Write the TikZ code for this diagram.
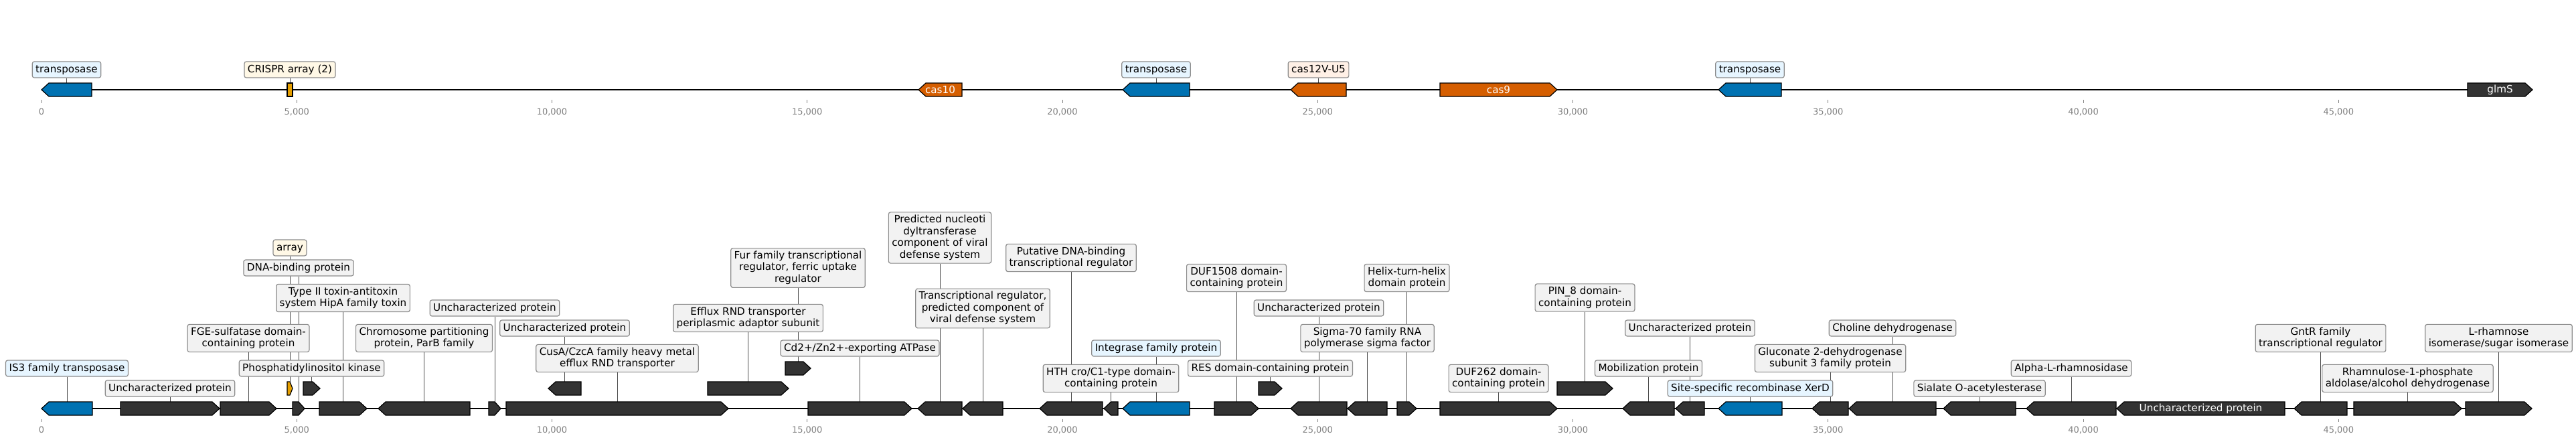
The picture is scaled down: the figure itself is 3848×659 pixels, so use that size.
\documentclass[tikz,border=0pt]{standalone}
\usepackage{fontspec}
\setmainfont{DejaVu Sans}
\definecolor{gdark}{HTML}{333333}
\definecolor{gblue}{HTML}{0072B2}
\definecolor{gorange}{HTML}{D55E00}
\definecolor{garray}{HTML}{E69F00}
\definecolor{lgrey}{HTML}{F2F2F2}
\definecolor{lblue}{HTML}{E6F5FF}
\definecolor{lcream}{HTML}{FFF8E6}
\definecolor{lpeach}{HTML}{FFF0E6}
\definecolor{ledge}{HTML}{8C8C8C}
\definecolor{tickc}{HTML}{808080}
\pgfdeclarelayer{back}
\pgfdeclarelayer{lead}
\pgfsetlayers{back,lead,main}
\tikzset{
  lab/.style={draw=ledge, line width=1.2pt, rounded corners=3pt, fill=lgrey,
    font=\fontsize{15.2}{17.5}\selectfont, align=center, inner xsep=5pt, inner ysep=4.3pt,
    execute at begin node={\rule{0pt}{11.8pt}},
    execute at end node={\rule[-3.6pt]{0pt}{3.6pt}}},
  labblue/.style={lab, fill=lblue},
  labcream/.style={lab, fill=lcream},
  labpeach/.style={lab, fill=lpeach},
  leader/.style={draw=black!70, line width=0.9pt},
  genep/.style={draw=black, line width=1.2pt, line join=miter},
  backbone/.style={line width=2.2pt, black},
  tickl/.style={font=\fontsize{13}{15}\selectfont, text=tickc, inner sep=0pt},
  tickm/.style={draw=tickc, line width=0.9pt},
  intext/.style={font=\fontsize{15.2}{17.5}\selectfont, text=white, inner sep=0pt}
}
\newcommand\GeneR[5]{%
  \pgfmathsetmacro\ghl{min(11,(#3-#2)/2)}%
  \draw[genep, fill=#5] (#2,#4-10) -- ({#3-\ghl},#4-10) -- (#3,#4) -- ({#3-\ghl},#4+10) -- (#2,#4+10) -- cycle;
  \coordinate (#1) at ({(#2+#3)/2},#4-10);}
\newcommand\GeneL[5]{%
  \pgfmathsetmacro\ghl{min(11,(#3-#2)/2)}%
  \draw[genep, fill=#5] (#3,#4-10) -- ({#2+\ghl},#4-10) -- (#2,#4) -- ({#2+\ghl},#4+10) -- (#3,#4+10) -- cycle;
  \coordinate (#1) at ({(#2+#3)/2},#4-10);}
\newcommand\feat[9]{%
  \ifx R#2\GeneR{g#1}{#3}{#4}{#5}{#6}\else\GeneL{g#1}{#3}{#4}{#5}{#6}\fi
  \node[#7] (l#1) at ({(#3+#4)/2},#8) {#9};
  \begin{pgfonlayer}{lead}\draw[leader] (l#1.south) -- (g#1);\end{pgfonlayer}}
\begin{document}
\begin{tikzpicture}[x=1pt,y=-1pt]
\begin{pgfonlayer}{back}
\path[fill=white] (0,0) rectangle (3848,659);
\end{pgfonlayer}
\useasboundingbox (0,0) rectangle (3848,659);
% ---------- top track ----------
\coordinate (ts) at (62,134);
\coordinate (te) at (3783,134);
\begin{pgfonlayer}{back}\draw[backbone] (ts) -- (te);\end{pgfonlayer}
\foreach \k/\t in {0/0,1/{5,000},2/{10,000},3/{15,000},4/{20,000},5/{25,000},6/{30,000},7/{35,000},8/{40,000},9/{45,000}}{
  \draw[tickm] ({62+\k*381.25},149) -- ({62+\k*381.25},154);
  \node[tickl] (tt\k) at ({62+\k*381.25},167) {\t};
  \draw[tickm] ({62+\k*381.25},625.5) -- ({62+\k*381.25},630);
  \node[tickl] (tb\k) at ({62+\k*381.25},642) {\t};
}
\feat{t1}{L}{62}{137}{134}{gblue}{labblue}{104}{transposase}
\draw[genep, fill=garray] (429,124) rectangle (437,144);
\coordinate (gt2) at (433,124);
\node[labcream] (lt2) at (433,104) {CRISPR array (2)};
\begin{pgfonlayer}{lead}\draw[leader] (lt2.south) -- (gt2);\end{pgfonlayer}
\GeneL{gt3}{1372}{1437}{134}{gorange}
\node[intext] (xt3) at (1404.5,134) {cas10};
\feat{t4}{L}{1677}{1777}{134}{gblue}{labblue}{104}{transposase}
\feat{t5}{L}{1928}{2011}{134}{gorange}{labpeach}{104}{cas12V-U5}
\GeneR{gt6}{2151}{2326}{134}{gorange}
\node[intext] (xt6) at (2238.5,134) {cas9};
\feat{t7}{L}{2567}{2661}{134}{gblue}{labblue}{104}{transposase}
\GeneR{gt8}{3686}{3783}{134}{gdark}
\node[intext] (xt8) at (3734.5,134) {glmS};
% ---------- bottom track ----------
\coordinate (bs) at (62,610);
\coordinate (be) at (3782,610);
\begin{pgfonlayer}{back}\draw[backbone] (bs) -- (be);\end{pgfonlayer}
\feat{1}{L}{62}{138}{610}{gblue}{labblue}{550}{IS3 family transposase}
\feat{2}{R}{180}{328}{610}{gdark}{lab}{580}{Uncharacterized protein}
\feat{3}{R}{329}{413}{610}{gdark}{lab}{505}{FGE-sulfatase domain-\\containing protein}
\feat{4}{R}{429}{437}{580}{garray}{labcream}{370}{array}
\feat{5}{R}{437}{455}{610}{gdark}{lab}{400}{DNA-binding protein}
\feat{6}{R}{453}{478}{580}{gdark}{lab}{550}{Phosphatidylinositol kinase}
\feat{7}{R}{477}{548}{610}{gdark}{lab}{445}{Type II toxin-antitoxin\\system HipA family toxin}
\feat{8}{L}{565}{702}{610}{gdark}{lab}{505}{Chromosome partitioning\\protein, ParB family}
\feat{9}{R}{730}{748}{610}{gdark}{lab}{460}{Uncharacterized protein}
\feat{10}{R}{756}{1088}{610}{gdark}{lab}{535}{CusA/CzcA family heavy metal\\efflux RND transporter}
\feat{11}{L}{819}{868}{580}{gdark}{lab}{490}{Uncharacterized protein}
\feat{12}{R}{1057}{1178}{580}{gdark}{lab}{475}{Efflux RND transporter\\periplasmic adaptor subunit}
\feat{13}{R}{1207}{1362}{610}{gdark}{lab}{520}{Cd2+/Zn2+-exporting ATPase}
\feat{14}{R}{1173}{1211}{550}{gdark}{lab}{400}{Fur family transcriptional\\regulator, ferric uptake\\regulator}
\feat{15}{L}{1371}{1437}{610}{gdark}{lab}{355}{Predicted nucleoti\\dyltransferase\\component of viral\\defense system}
\feat{16}{L}{1438}{1498}{610}{gdark}{lab}{460.5}{Transcriptional regulator,\\predicted component of\\viral defense system}
\feat{17}{L}{1553}{1647}{610}{gdark}{lab}{385}{Putative DNA-binding\\transcriptional regulator}
\feat{18}{L}{1649}{1670}{610}{gdark}{lab}{565}{HTH cro/C1-type domain-\\containing protein}
\feat{19}{L}{1677}{1777}{610}{gblue}{labblue}{520}{Integrase family protein}
\feat{20}{R}{1814}{1880}{610}{gdark}{lab}{415}{DUF1508 domain-\\containing protein}
\feat{21}{R}{1880}{1915}{580}{gdark}{lab}{550}{RES domain-containing protein}
\feat{22}{L}{1928}{2012}{610}{gdark}{lab}{460}{Uncharacterized protein}
\feat{23}{L}{2013}{2072}{610}{gdark}{lab}{505}{Sigma-70 family RNA\\polymerase sigma factor}
\feat{24}{R}{2087}{2116}{610}{gdark}{lab}{415}{Helix-turn-helix\\domain protein}
\feat{25}{R}{2151}{2326}{610}{gdark}{lab}{565}{DUF262 domain-\\containing protein}
\feat{26}{R}{2326}{2409}{580}{gdark}{lab}{444.5}{PIN\_8 domain-\\containing protein}
\feat{27}{L}{2424}{2501}{610}{gdark}{lab}{550}{Mobilization protein}
\feat{28}{L}{2503}{2546}{610}{gdark}{lab}{490}{Uncharacterized protein}
\feat{29}{L}{2567}{2662}{610}{gblue}{labblue}{580}{Site-specific recombinase XerD}
\feat{30}{L}{2707}{2761}{610}{gdark}{lab}{535}{Gluconate 2-dehydrogenase\\subunit 3 family protein}
\feat{31}{L}{2762}{2892}{610}{gdark}{lab}{490}{Choline dehydrogenase}
\feat{32}{L}{2903}{3011}{610}{gdark}{lab}{580}{Sialate O-acetylesterase}
\feat{33}{L}{3027}{3161}{610}{gdark}{lab}{550}{Alpha-L-rhamnosidase}
\GeneL{g34}{3162}{3413}{610}{gdark}
\node[intext] (x34) at (3287.5,610) {Uncharacterized protein};
\feat{35}{L}{3427}{3506}{610}{gdark}{lab}{505}{GntR family\\transcriptional regulator}
\feat{36}{R}{3516}{3677}{610}{gdark}{lab}{565}{Rhamnulose-1-phosphate\\aldolase/alcohol dehydrogenase}
\feat{37}{R}{3683}{3782}{610}{gdark}{lab}{505}{L-rhamnose\\isomerase/sugar isomerase}
\end{tikzpicture}
\end{document}
